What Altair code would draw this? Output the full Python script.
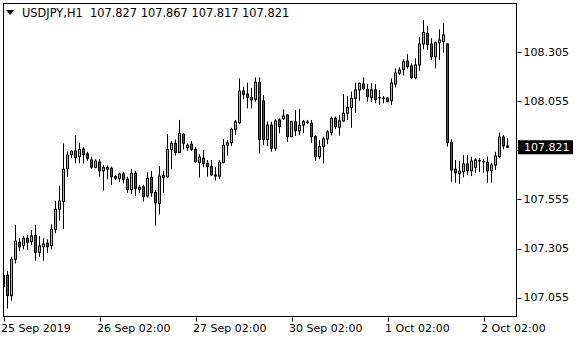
import altair as alt
import pandas as pd

# ---- data (USDJPY H1) ----
times = ["25 Sep 2019", "26 Sep 02:00", "27 Sep 02:00", "30 Sep 02:00", "1 Oct 02:00", "2 Oct 02:00"]
time_pos = [0, 24, 48, 72, 96, 120]
price_ticks = [107.055, 107.305, 107.555, 107.805, 108.055, 108.305]

O = [107.111, 107.169, 107.065, 107.250, 107.337, 107.321, 107.357, 107.340, 107.372, 107.286,
     107.314, 107.332, 107.321, 107.403, 107.505, 107.544, 107.712, 107.783, 107.802, 107.773,
     107.812, 107.787, 107.756, 107.719, 107.746, 107.701, 107.709, 107.714, 107.671, 107.663,
     107.685, 107.658, 107.606, 107.688, 107.607, 107.620, 107.573, 107.668, 107.591, 107.535,
     107.668, 107.671, 107.810, 107.841, 107.795, 107.887, 107.819, 107.836, 107.810, 107.744,
     107.765, 107.739, 107.722, 107.680, 107.674, 107.744, 107.831, 107.844, 107.912, 107.946,
     108.107, 108.092, 108.075, 108.065, 108.152, 108.057, 107.861, 107.934, 107.816, 107.960,
     107.966, 107.985, 107.875, 107.950, 107.904, 107.934, 107.947, 107.943, 107.875, 107.773,
     107.824, 107.863, 107.897, 107.968, 107.923, 107.955, 107.994, 108.024, 108.070, 108.113,
     108.143, 108.116, 108.075, 108.113, 108.074, 108.072, 108.072, 108.058, 108.143, 108.198,
     108.218, 108.260, 108.235, 108.175, 108.240, 108.347, 108.401, 108.347, 108.282, 108.353,
     108.359, 108.347, 107.846, 107.709, 107.688, 107.696, 107.736, 107.701, 107.719, 107.753,
     107.748, 107.744, 107.701, 107.730, 107.774, 107.873, 107.827]
H = [107.187, 107.191, 107.263, 107.425, 107.359, 107.369, 107.374, 107.399, 107.425, 107.369,
     107.357, 107.352, 107.428, 107.547, 107.624, 107.841, 107.798, 107.807, 107.883, 107.844,
     107.821, 107.798, 107.773, 107.760, 107.760, 107.730, 107.729, 107.722, 107.680, 107.691,
     107.696, 107.671, 107.709, 107.700, 107.629, 107.629, 107.693, 107.700, 107.603, 107.725,
     107.701, 107.888, 107.853, 107.861, 107.960, 107.895, 107.841, 107.853, 107.821, 107.785,
     107.807, 107.756, 107.756, 107.722, 107.756, 107.863, 107.858, 107.920, 107.960, 108.172,
     108.129, 108.150, 108.123, 108.177, 108.177, 108.087, 107.952, 107.951, 107.963, 107.968,
     108.014, 107.990, 107.957, 108.011, 108.016, 107.960, 107.960, 107.960, 107.883, 107.858,
     107.875, 107.909, 107.977, 107.977, 107.985, 108.092, 108.082, 108.104, 108.150, 108.150,
     108.177, 108.143, 108.147, 108.142, 108.113, 108.082, 108.077, 108.172, 108.223, 108.228,
     108.269, 108.295, 108.248, 108.274, 108.383, 108.469, 108.439, 108.376, 108.359, 108.422,
     108.452, 108.350, 107.861, 107.756, 107.752, 107.781, 107.781, 107.773, 107.765, 107.766,
     107.760, 107.773, 107.742, 107.798, 107.895, 107.883, 107.867]
L = [107.094, 106.999, 107.039, 107.229, 107.292, 107.301, 107.298, 107.323, 107.243, 107.263,
     107.243, 107.281, 107.301, 107.383, 107.447, 107.405, 107.671, 107.765, 107.739, 107.739,
     107.739, 107.752, 107.709, 107.714, 107.671, 107.600, 107.658, 107.629, 107.654, 107.645,
     107.637, 107.589, 107.583, 107.573, 107.589, 107.544, 107.564, 107.569, 107.421, 107.479,
     107.589, 107.663, 107.709, 107.778, 107.793, 107.810, 107.803, 107.803, 107.742, 107.666,
     107.719, 107.671, 107.674, 107.651, 107.658, 107.739, 107.778, 107.827, 107.883, 107.938,
     108.065, 108.019, 108.019, 108.053, 107.789, 107.832, 107.827, 107.798, 107.803, 107.892,
     107.960, 107.849, 107.872, 107.878, 107.883, 107.892, 107.939, 107.844, 107.751, 107.760,
     107.738, 107.837, 107.880, 107.912, 107.880, 107.951, 107.960, 107.920, 107.997, 108.058,
     108.113, 108.053, 108.051, 108.045, 108.036, 108.045, 108.050, 108.036, 108.125, 108.189,
     108.186, 108.222, 108.169, 108.167, 108.211, 108.320, 108.316, 108.265, 108.223, 108.265,
     108.303, 107.824, 107.645, 107.640, 107.634, 107.668, 107.680, 107.674, 107.691, 107.695,
     107.691, 107.640, 107.640, 107.705, 107.765, 107.810, 107.817]
C = [107.167, 107.065, 107.250, 107.343, 107.314, 107.357, 107.337, 107.369, 107.286, 107.318,
     107.328, 107.314, 107.403, 107.505, 107.547, 107.709, 107.781, 107.800, 107.768, 107.810,
     107.783, 107.765, 107.719, 107.751, 107.701, 107.717, 107.717, 107.671, 107.663, 107.685,
     107.658, 107.606, 107.688, 107.612, 107.617, 107.569, 107.663, 107.589, 107.538, 107.674,
     107.676, 107.810, 107.841, 107.795, 107.892, 107.841, 107.832, 107.810, 107.747, 107.770,
     107.739, 107.722, 107.680, 107.674, 107.744, 107.831, 107.843, 107.912, 107.950, 108.107,
     108.091, 108.075, 108.062, 108.152, 107.861, 107.861, 107.934, 107.816, 107.955, 107.926,
     107.980, 107.875, 107.951, 107.905, 107.933, 107.951, 107.950, 107.875, 107.773, 107.824,
     107.863, 107.899, 107.968, 107.926, 107.955, 107.994, 108.024, 108.070, 108.113, 108.147,
     108.119, 108.078, 108.113, 108.065, 108.072, 108.069, 108.053, 108.148, 108.199, 108.214,
     108.256, 108.231, 108.175, 108.240, 108.347, 108.406, 108.345, 108.282, 108.353, 108.367,
     108.393, 107.846, 107.705, 107.691, 107.700, 107.736, 107.701, 107.751, 107.756, 107.751,
     107.746, 107.701, 107.730, 107.776, 107.873, 107.828, 107.821]

symbol = "USDJPY,H1"

df = pd.DataFrame({"i": list(range(len(O))), "open": O, "high": H, "low": L, "close": C})
df["dir"] = ["up" if c >= o else "down" for o, c in zip(O, C)]
df["top"] = df[["open", "close"]].max(axis=1)
df["bot"] = df[["open", "close"]].min(axis=1)

W, HT = 514, 314
FONT = "DejaVu Sans"
UP, DOWN = "#7fe61e", "#e0141a"

xs = alt.Scale(domain=[-0.125, 128.375], nice=False, zero=False, padding=0)
ys = alt.Scale(domain=[106.9562, 108.5557], nice=False, zero=False, padding=0)
px = (ys.domain[1] - ys.domain[0]) / HT  # price per pixel

label_expr = "".join(f"datum.value == {p} ? '{t}' : " for p, t in zip(time_pos, times)) + "''"
# the 107.805 level is hidden under the current-price box
y_label_expr = f"abs(datum.value - {price_ticks[3]}) < 0.001 ? '' : format(datum.value, '.3f')"

x_axis = alt.Axis(values=time_pos, labelExpr=label_expr, labelAlign="left", labelFont=FONT,
                  labelFontSize=11, labelColor="black", tickColor="black", tickSize=4,
                  labelPadding=1, labelOffset=-3, domain=False, grid=False, title=None,
                  labelFlush=False, labelOverlap=False)
y_axis = alt.Axis(orient="right", values=price_ticks, labelExpr=y_label_expr, labelFont=FONT,
                  labelFontSize=11, labelColor="black", tickColor="black", tickSize=4,
                  labelPadding=2, domain=False, grid=False, title=None, labelOverlap=False)

wicks = alt.Chart(df).mark_rule(color="black", strokeWidth=1, clip=True).encode(
    x=alt.X("i:Q", scale=xs, axis=x_axis),
    y=alt.Y("low:Q", scale=ys, axis=y_axis),
    y2="high:Q",
)
# black body outline (at least 1 px tall so dojis show as a dash)
outer = alt.Chart(df).mark_bar(width=3, color="black", clip=True, yOffset=-0.5,
                               y2Offset=0.5).encode(
    x=alt.X("i:Q", scale=xs),
    y=alt.Y("top:Q", scale=ys),
    y2="bot:Q",
)
# coloured body inside the outline
inner = alt.Chart(df).transform_filter(
    f"datum.top - datum.bot > {1.2 * px}"
).mark_bar(width=1, clip=True, yOffset=0.5, y2Offset=-0.5).encode(
    x=alt.X("i:Q", scale=xs),
    y=alt.Y("top:Q", scale=ys),
    y2="bot:Q",
    color=alt.Color("dir:N", scale=alt.Scale(domain=["up", "down"], range=[UP, DOWN]), legend=None),
)

one = pd.DataFrame({"k": [0]})
frame = [
    alt.Chart(one).mark_rule(color="black", strokeWidth=1).encode(
        x=alt.value(0.5), y=alt.value(0), y2=alt.value(HT)),
    alt.Chart(one).mark_rule(color="black", strokeWidth=1).encode(
        x=alt.value(W - 0.5), y=alt.value(0), y2=alt.value(HT)),
    alt.Chart(one).mark_rule(color="black", strokeWidth=1).encode(
        y=alt.value(0.5), x=alt.value(0), x2=alt.value(W)),
    alt.Chart(one).mark_rule(color="black", strokeWidth=1).encode(
        y=alt.value(HT - 0.5), x=alt.value(0), x2=alt.value(W)),
]

last = pd.DataFrame({"p": [C[-1]], "t": [f"{C[-1]:.3f}"]})
price_box = alt.Chart(last).mark_rule(color="black", strokeWidth=14, strokeCap="butt").encode(
    x=alt.value(W + 1), x2=alt.value(W + 56), y=alt.Y("p:Q", scale=ys))
price_txt = alt.Chart(last).mark_text(align="left", baseline="middle", color="white",
                                      font=FONT, fontSize=11, dy=1).encode(
    x=alt.value(W + 7), y=alt.Y("p:Q", scale=ys), text="t:N")

hdr = pd.DataFrame({"t": [f"{symbol}\u00a0\u00a0{O[-1]:.3f} {H[-1]:.3f} {L[-1]:.3f} {C[-1]:.3f}"]})
header = alt.Chart(hdr).mark_text(align="left", baseline="alphabetic", color="black",
                                  font=FONT, fontSize=11.4).encode(
    x=alt.value(19), y=alt.value(13.5), text="t:N")
tri = alt.Chart(one).mark_point(shape="M-1,-0.6L1,-0.6L0,0.6Z", filled=True, color="black",
                                opacity=1, size=64).encode(x=alt.value(7), y=alt.value(9.5))

chart = alt.layer(wicks, outer, inner, *frame, price_box, price_txt, header, tri).properties(
    width=W, height=HT,
    autosize=alt.AutoSizeParams(type="none"),
    padding={"left": 3, "top": 3, "right": 580 - 3 - W, "bottom": 340 - 3 - HT},
    background="white",
).configure_view(stroke=None)

chart.save("out.html", embed_options={"renderer": "svg", "actions": False})
